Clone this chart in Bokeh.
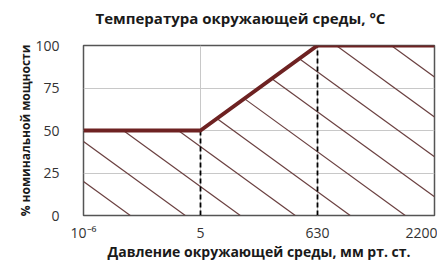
import numpy as np
from bokeh.plotting import figure
from bokeh.models import Range1d, FixedTicker, Title
from bokeh.embed import file_html
from bokeh.resources import INLINE

# data
pressure_labels = ["10⁻⁶", "5", "630", "2200"]
power_pct = [50, 50, 100, 100]
y_ticks = [0, 25, 50, 75, 100]

xs = list(range(len(pressure_labels)))

FONT = "Open Sans"

p = figure(width=437, height=268, output_backend="svg", toolbar_location=None,
           x_range=Range1d(0, len(xs) - 1), y_range=Range1d(0, 100),
           min_border_left=83, min_border_right=3, min_border_top=43, min_border_bottom=53)

# spacer (closest to the frame) then the real title
p.add_layout(Title(text=" ", text_font_size="1px"), "above")
p.add_layout(Title(text="Температура окружающей среды, °C", align="left", offset=12,
                   text_font=FONT, text_font_size="15px", text_font_style="bold",
                   text_line_height=1.0, text_color="#1a1a1a"), "above")

# hatch lines under the curve (decorative, clipped to the area below the curve)
HATCH_SLOPE = 50.0      # data units of y per unit of x
HATCH_START = 20.0
HATCH_STEP = 23.5
grid_x = np.linspace(0, xs[-1], 6001)
upper = np.interp(grid_x, xs, power_pct)
hx0, hy0, hx1, hy1 = [], [], [], []
c = HATCH_START
while c - HATCH_SLOPE * xs[-1] < 100:
    ly = c - HATCH_SLOPE * grid_x
    mask = (ly >= 0) & (ly <= upper)
    if mask.any():
        idx = np.nonzero(mask)[0]
        hx0.append(grid_x[idx[0]]); hy0.append(ly[idx[0]])
        hx1.append(grid_x[idx[-1]]); hy1.append(ly[idx[-1]])
    c += HATCH_STEP
p.segment(x0=hx0, y0=hy0, x1=hx1, y1=hy1, line_color="#6b4040", line_width=1.2)

# dashed verticals
p.segment(x0=xs[1:3], y0=[0, 0], x1=xs[1:3], y1=power_pct[1:3],
          line_color="black", line_width=1.8, line_dash="5 3")

# main line
p.line(xs, power_pct, line_color="#6e2222", line_width=4)

p.xaxis.ticker = FixedTicker(ticks=xs)
p.xaxis.major_label_overrides = {i: lab for i, lab in zip(xs, pressure_labels)}
p.yaxis.ticker = FixedTicker(ticks=y_ticks)
p.xgrid.ticker = FixedTicker(ticks=xs)
p.ygrid.ticker = FixedTicker(ticks=y_ticks)
p.grid.grid_line_color = "#c8c8c8"
p.grid.grid_line_width = 1

for ax in (p.xaxis[0], p.yaxis[0]):
    ax.axis_line_color = None
    ax.major_tick_line_color = None
    ax.minor_tick_line_color = None
    ax.major_label_text_font = FONT
    ax.major_label_text_font_size = "14px"
    ax.major_label_text_color = "#333333"
    ax.axis_label_text_font = FONT
    ax.axis_label_text_font_style = "bold"
    ax.axis_label_text_color = "#1a1a1a"

p.xaxis.axis_label_text_font_size = "14px"
p.yaxis.axis_label_text_font_size = "12px"
p.yaxis.major_label_standoff = 18
p.xaxis.major_label_standoff = 1
p.xaxis.axis_label = "Давление окружающей среды, мм рт. ст."
p.yaxis.axis_label = "% номинальной мощности"
p.xaxis.axis_label_standoff = -3
p.yaxis.axis_label_standoff = -2

p.outline_line_color = "#555555"
p.outline_line_width = 1.5
p.background_fill_color = "white"
p.border_fill_color = "white"

open("out.html", "w").write(file_html(p, INLINE))
